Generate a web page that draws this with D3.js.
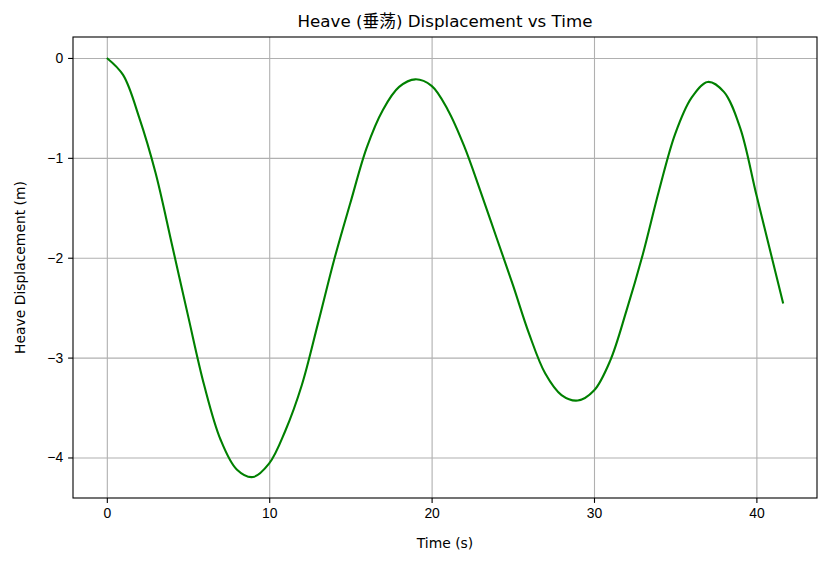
<!DOCTYPE html>
<html>
<head>
<meta charset="utf-8">
<script src="https://cdn.jsdelivr.net/npm/d3@7"></script>
<style>
  body { margin: 0; background: #fff; }
  svg { display: block; font-family: "DejaVu Sans", "Noto Sans CJK SC", sans-serif; }
  .axis path, .axis line { stroke: #000; stroke-width: 1.1px; }
  .axis text { font-size: 13.9px; fill: #000; }
  .grid line { stroke: #b0b0b0; stroke-width: 1.1px; }
  .grid path { display: none; }
</style>
</head>
<body>
<svg id="chart"></svg>
<script>
// Heave displacement, one reading per second
const timeValues = [0, 1, 2, 3, 4, 5, 6, 7, 8, 9, 10, 11, 12, 13, 14, 15, 16, 17, 18, 19, 20,
  21, 22, 23, 24, 25, 26, 27, 28, 29, 30, 31, 32, 33, 34, 35, 36, 37, 38, 39, 40, 41, 41.65];
const heaveValues = [0, -0.17, -0.60, -1.15, -1.86, -2.58, -3.28, -3.82, -4.12, -4.196, -4.06,
  -3.73, -3.28, -2.66, -2.02, -1.45, -0.90, -0.52, -0.29, -0.214, -0.28,
  -0.52, -0.88, -1.33, -1.80, -2.27, -2.76, -3.16, -3.375, -3.43, -3.33,
  -3.03, -2.53, -1.97, -1.33, -0.76, -0.40, -0.24, -0.34, -0.70, -1.37, -2.03, -2.458];
const xTicks = [0, 10, 20, 30, 40];
const yTicks = [0, -1, -2, -3, -4];

const titleText = 'Heave (垂荡) Displacement vs Time';
const xLabel = 'Time (s)';
const yLabel = 'Heave Displacement (m)';

(function() {
    'use strict';

    const width = 828, height = 565;
    const margin = { top: 37, right: 11, bottom: 67, left: 73 };
    const innerWidth = width - margin.left - margin.right;
    const innerHeight = height - margin.top - margin.bottom;

    const data = timeValues.map((t, i) => ({ t: t, v: heaveValues[i] }));

    const svg = d3.select('#chart')
        .attr('width', width)
        .attr('height', height);

    const g = svg.append('g')
        .attr('transform', `translate(${margin.left}, ${margin.top})`);

    // matplotlib-style 5% padding around the data
    const xExt = d3.extent(timeValues);
    const yExt = d3.extent(heaveValues);
    const xPad = (xExt[1] - xExt[0]) * 0.05;
    const yPad = (yExt[1] - yExt[0]) * 0.05;

    const xScale = d3.scaleLinear()
        .domain([xExt[0] - xPad, xExt[1] + xPad])
        .range([0, innerWidth]);

    const yScale = d3.scaleLinear()
        .domain([yExt[0] - yPad, yExt[1] + yPad])
        .range([innerHeight, 0]);

    const fmt = d => d3.format('d')(d).replace('-', '\u2212');

    // Grid lines
    g.append('g')
        .attr('class', 'grid')
        .attr('transform', `translate(0, ${innerHeight})`)
        .call(d3.axisBottom(xScale).tickValues(xTicks).tickSize(-innerHeight).tickFormat(''));

    g.append('g')
        .attr('class', 'grid')
        .call(d3.axisLeft(yScale).tickValues(yTicks).tickSize(-innerWidth).tickFormat(''));

    // Line
    const line = d3.line()
        .x(d => xScale(d.t))
        .y(d => yScale(d.v))
        .curve(d3.curveCatmullRom.alpha(0.5));

    g.append('path')
        .datum(data)
        .attr('fill', 'none')
        .attr('stroke', '#008000')
        .attr('stroke-width', 2.1)
        .attr('d', line);

    // Axes
    const xAxis = g.append('g')
        .attr('class', 'axis')
        .attr('transform', `translate(0, ${innerHeight})`)
        .call(d3.axisBottom(xScale).tickValues(xTicks).tickSizeInner(4.9).tickSizeOuter(0).tickPadding(4.9).tickFormat(fmt));
    xAxis.select('.domain').remove();

    const yAxis = g.append('g')
        .attr('class', 'axis')
        .call(d3.axisLeft(yScale).tickValues(yTicks).tickSizeInner(4.9).tickSizeOuter(0).tickPadding(4.9).tickFormat(fmt));
    yAxis.select('.domain').remove();

    // Frame
    g.append('rect')
        .attr('width', innerWidth)
        .attr('height', innerHeight)
        .attr('fill', 'none')
        .attr('stroke', '#000')
        .attr('stroke-width', 1.1);

    // Labels
    svg.append('text')
        .attr('x', margin.left + innerWidth / 2)
        .attr('y', 27)
        .attr('text-anchor', 'middle')
        .style('font-size', '16.7px')
        .text(titleText);

    svg.append('text')
        .attr('x', margin.left + innerWidth / 2)
        .attr('y', 548)
        .attr('text-anchor', 'middle')
        .style('font-size', '13.9px')
        .text(xLabel);

    svg.append('text')
        .attr('transform', 'rotate(-90)')
        .attr('x', -(margin.top + innerHeight / 2))
        .attr('y', 25)
        .attr('text-anchor', 'middle')
        .style('font-size', '13.9px')
        .text(yLabel);
})();
</script>
</body>
</html>
